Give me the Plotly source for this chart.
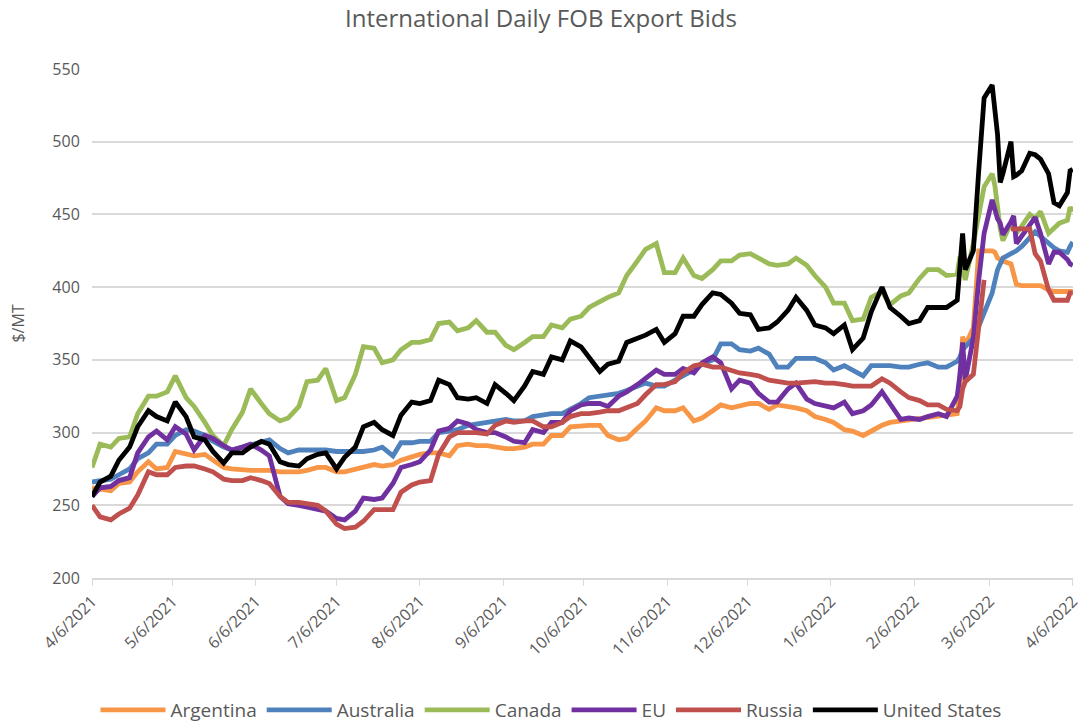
import plotly.graph_objects as go

# ---- data ----
# Tuesday readings (weekly) 2021-04-06 .. 2022-02-15
dates_tue = [
    "2021-04-06", "2021-04-13", "2021-04-20", "2021-04-27", "2021-05-04", "2021-05-11",
    "2021-05-18", "2021-05-25", "2021-06-01", "2021-06-08", "2021-06-15", "2021-06-22",
    "2021-06-29", "2021-07-06", "2021-07-13", "2021-07-20", "2021-07-27", "2021-08-03",
    "2021-08-10", "2021-08-17", "2021-08-24", "2021-08-31", "2021-09-07", "2021-09-14",
    "2021-09-21", "2021-09-28", "2021-10-05", "2021-10-12", "2021-10-19", "2021-10-26",
    "2021-11-02", "2021-11-09", "2021-11-16", "2021-11-23", "2021-11-30", "2021-12-07",
    "2021-12-14", "2021-12-21", "2021-12-28", "2022-01-04", "2022-01-11", "2022-01-18",
    "2022-01-25", "2022-02-01", "2022-02-08", "2022-02-15",
]
# Friday readings (weekly) 2021-04-09 .. 2022-02-11
dates_fri = [
    "2021-04-09", "2021-04-16", "2021-04-23", "2021-04-30", "2021-05-07", "2021-05-14",
    "2021-05-21", "2021-05-28", "2021-06-04", "2021-06-11", "2021-06-18", "2021-06-25",
    "2021-07-02", "2021-07-09", "2021-07-16", "2021-07-23", "2021-07-30", "2021-08-06",
    "2021-08-13", "2021-08-20", "2021-08-27", "2021-09-03", "2021-09-10", "2021-09-17",
    "2021-09-24", "2021-10-01", "2021-10-08", "2021-10-15", "2021-10-22", "2021-10-29",
    "2021-11-05", "2021-11-12", "2021-11-19", "2021-11-26", "2021-12-03", "2021-12-10",
    "2021-12-17", "2021-12-24", "2021-12-31", "2022-01-07", "2022-01-14", "2022-01-21",
    "2022-01-28", "2022-02-04", "2022-02-11",
]
# Denser readings from 2022-02-18 to the end
dates_late = [
    "2022-02-18", "2022-02-22", "2022-02-23", "2022-02-24", "2022-02-25", "2022-02-28",
    "2022-03-02", "2022-03-04", "2022-03-07", "2022-03-08", "2022-03-09", "2022-03-10",
    "2022-03-11", "2022-03-14", "2022-03-15", "2022-03-16", "2022-03-18", "2022-03-21",
    "2022-03-23", "2022-03-25", "2022-03-28", "2022-03-30", "2022-04-01", "2022-04-04",
    "2022-04-05", "2022-04-06",
]

argentina_tue = [262, 260, 266, 280, 276, 285, 285, 276, 274, 274, 273, 273, 276, 273, 275, 278,
                 278, 283, 286, 284, 292, 291, 289, 290, 292, 298, 305, 305, 295, 303, 317, 315,
                 308, 315, 317, 320, 316, 318, 315, 309, 302, 298, 305, 308, 309, 311]
argentina_fri = [261, 265, 273, 275, 287, 284, 281, 275, 274, 274, 273, 274, 276, 273, 276, 277,
                 281, 285, 286, 291, 291, 290, 289, 292, 298, 304, 305, 298, 296, 308, 315, 317,
                 310, 319, 318, 320, 319, 317, 311, 307, 301, 301, 307, 308, 310]
argentina_late = [312, 313, 330, 366, 360, 372, 425, 425, 425, 424, 420, 419, 418, 416, 410, 402,
                  401, 401, 401, 401, 398, 397, 397, 397, 397, 397]

australia_tue = [266, 268, 275, 286, 292, 302, 298, 290, 290, 294, 289, 288, 288, 287, 287, 288,
                 284, 293, 294, 301, 305, 307, 309, 308, 312, 313, 320, 325, 327, 332, 332, 336,
                 343, 350, 361, 356, 354, 345, 351, 348, 346, 339, 346, 345, 347, 345]
australia_fri = [267, 271, 282, 292, 298, 301, 294, 288, 292, 295, 286, 288, 288, 287, 287, 290,
                 293, 294, 300, 302, 306, 308, 308, 311, 313, 316, 324, 326, 329, 334, 332, 339,
                 347, 361, 357, 358, 345, 351, 351, 343, 343, 346, 346, 345, 348]
australia_late = [345, 349, 352, 357, 359, 365, 373, 382, 396, 404, 412, 416, 420, 423, 424, 425,
                  428, 434, 438, 435, 430, 427, 425, 424, 428, 431]

canada_tue = [276, 290, 297, 325, 328, 324, 307, 291, 314, 320, 308, 318, 336, 322, 340, 358,
              350, 362, 364, 376, 372, 369, 360, 362, 366, 372, 380, 390, 396, 418, 430, 410,
              408, 412, 418, 423, 416, 416, 415, 400, 389, 378, 397, 394, 406, 412]
canada_fri = [292, 296, 313, 325, 339, 318, 298, 302, 330, 313, 310, 335, 344, 324, 359, 348,
              357, 362, 375, 370, 377, 369, 357, 366, 374, 378, 386, 393, 408, 426, 410, 420,
              406, 418, 422, 420, 415, 420, 408, 389, 377, 393, 388, 396, 412]
canada_late = [408, 409, 421, 412, 405, 430, 448, 469, 478, 470, 455, 440, 432, 444, 440, 437,
               442, 450, 447, 452, 437, 441, 444, 446, 455, 452]

eu_tue = [256, 263, 269, 297, 295, 299, 298, 291, 290, 288, 256, 250, 247, 241, 246, 254,
          265, 278, 288, 303, 306, 300, 297, 293, 300, 307, 319, 320, 325, 333, 343, 340,
          341, 352, 330, 334, 321, 330, 323, 318, 321, 315, 328, 309, 309, 313]
eu_fri = [262, 267, 286, 301, 304, 288, 296, 288, 292, 284, 251, 249, 246, 240, 255, 255,
          276, 280, 301, 308, 302, 300, 294, 302, 307, 315, 320, 318, 328, 337, 340, 344,
          348, 348, 336, 327, 321, 334, 320, 317, 313, 319, 320, 310, 311]
eu_late = [311, 325, 340, 362, 336, 365, 405, 437, 460, 452, 447, 444, 436, 445, 449, 430,
           435, 443, 448, 437, 416, 424, 424, 419, 416, 415]

russia_tue = [250, 240, 248, 273, 271, 277, 275, 268, 267, 267, 256, 252, 250, 237, 235, 247,
              247, 264, 267, 297, 300, 299, 308, 308, 304, 307, 313, 314, 315, 320, 333, 335,
              346, 345, 343, 340, 336, 334, 335, 334, 333, 332, 337, 328, 322, 319]
russia_fri = [242, 244, 257, 271, 276, 277, 273, 267, 269, 265, 252, 251, 246, 234, 239, 247,
              259, 266, 285, 300, 300, 305, 307, 308, 304, 311, 313, 315, 317, 326, 333, 341,
              347, 345, 341, 339, 335, 334, 335, 334, 332, 332, 334, 324, 319]
russia_late = [316, 315, 318, 330, 335, 340, 370, 405, None, None, None, None, None, 440, 440, 440,
               440, 440, 423, 418, 398, 391, 391, 391, 396, 396]

us_tue = [256, 270, 290, 315, 308, 311, 295, 279, 286, 294, 280, 277, 285, 275, 290, 307,
          298, 321, 322, 333, 323, 320, 327, 332, 340, 350, 359, 342, 349, 365, 371, 368,
          380, 396, 389, 381, 372, 384, 384, 372, 374, 365, 400, 380, 377, 386]
us_fri = [266, 281, 304, 311, 321, 297, 287, 286, 290, 292, 278, 282, 286, 283, 304, 302,
          312, 320, 336, 324, 324, 333, 322, 342, 352, 363, 352, 347, 362, 367, 362, 380,
          388, 395, 382, 371, 376, 393, 374, 368, 357, 383, 386, 375, 386]
us_late = [386, 391, 418, 437, 412, 425, 480, 530, 539, 525, 505, 472, 478, 500, 476, 477,
           480, 492, 491, 488, 478, 458, 456, 465, 480, 481]

series_names = ["Argentina", "Australia", "Canada", "EU", "Russia", "United States"]
series_parts = [
    (argentina_tue, argentina_fri, argentina_late),
    (australia_tue, australia_fri, australia_late),
    (canada_tue, canada_fri, canada_late),
    (eu_tue, eu_fri, eu_late),
    (russia_tue, russia_fri, russia_late),
    (us_tue, us_fri, us_late),
]
series_colors = ["#F79646", "#4F81BD", "#9BBB59", "#7030A0", "#C0504D", "#000000"]

tick_dates = [
    "2021-04-06", "2021-05-06", "2021-06-06", "2021-07-06", "2021-08-06", "2021-09-06",
    "2021-10-06", "2021-11-06", "2021-12-06", "2022-01-06", "2022-02-06", "2022-03-06",
    "2022-04-06",
]
tick_labels = [
    "4/6/2021", "5/6/2021", "6/6/2021", "7/6/2021", "8/6/2021", "9/6/2021",
    "10/6/2021", "11/6/2021", "12/6/2021", "1/6/2022", "2/6/2022", "3/6/2022",
    "4/6/2022",
]


def merge(tue, fri, late):
    """Put the Tuesday/Friday/late readings in date order."""
    pairs = list(zip(dates_tue, tue)) + list(zip(dates_fri, fri)) + list(zip(dates_late, late))
    pairs.sort(key=lambda p: p[0])
    return [p[0] for p in pairs], [p[1] for p in pairs]


FONT = "Open Sans"
GREY = "#595959"

fig = go.Figure()
for name, parts, col in zip(series_names, series_parts, series_colors):
    xs, ys = merge(*parts)
    fig.add_trace(go.Scatter(
        x=xs, y=ys, name=name, mode="lines",
        line=dict(color=col, width=4.8),
        connectgaps=False,
    ))

fig.update_layout(
    width=1082, height=723,
    margin=dict(l=92, r=9, t=69, b=145, autoexpand=False),
    paper_bgcolor="white", plot_bgcolor="white",
    font=dict(family=FONT, color=GREY, size=16),
    title=dict(text="International Daily FOB Export Bids", x=0.5, xanchor="center",
               y=1 - 19 / 723, yanchor="middle", font=dict(size=24, color=GREY)),
    showlegend=True,
    legend=dict(orientation="h", xref="container", yref="container",
                x=551 / 1082, xanchor="center", y=1 - 710 / 723, yanchor="middle",
                font=dict(size=19, color=GREY), itemwidth=65, tracegroupgap=0),
)
fig.update_xaxes(
    type="date", range=["2021-04-06", "2022-04-06 02:00"], automargin=False,
    tickmode="array", tickvals=tick_dates, ticktext=tick_labels,
    tickangle=-45, ticks="outside", ticklen=6, tickcolor="#d9d9d9",
    ticklabeloverflow="allow",
    showline=True, linecolor="#d9d9d9", linewidth=1.5,
    showgrid=False, zeroline=False, tickfont=dict(size=16, color=GREY),
)
fig.update_yaxes(
    range=[200, 550], dtick=50, tick0=200, automargin=False,
    showgrid=True, gridcolor="#d9d9d9", gridwidth=1.5,
    zeroline=False, showline=False,
    ticks="outside", ticklen=8, tickcolor="rgba(0,0,0,0)",
    tickfont=dict(size=16, color=GREY),
    title=dict(text="$/MT", standoff=23, font=dict(size=16, color=GREY)),
)

fig.write_html("out.html", config={"displayModeBar": False},
               post_script="document.body.style.margin='0';")
